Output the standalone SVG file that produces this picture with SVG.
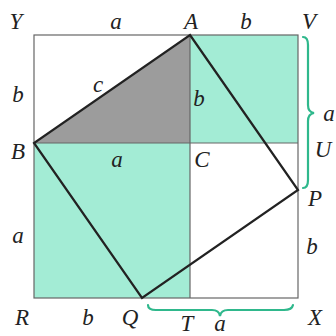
<svg xmlns="http://www.w3.org/2000/svg" width="336" height="336" viewBox="0 0 336 336">
<style>
.bg{fill:#ffffff}
.green{fill:#a3ecd5}
.grey{fill:#9c9c9c}
.thin{fill:none;stroke:#666;stroke-width:1.2}
.thick{fill:none;stroke:#222;stroke-width:2.2;stroke-linejoin:miter}
.brace{fill:none;stroke:#2fb88c;stroke-width:2.2;stroke-linecap:round}
text{font-family:"Liberation Serif","Times New Roman",serif;font-style:italic;font-size:23px;fill:#222;text-anchor:middle}
</style>
<rect class="bg" x="0" y="0" width="336" height="336"/>
<g id="regions">
<rect class="green" x="190" y="35" width="108" height="108"/>
<rect class="green" x="34" y="143" width="156" height="155"/>
<polygon class="grey" points="190,35 34,143 190,143"/>
</g>
<g id="outer-square">
<rect class="thin" x="34" y="35" width="264" height="263"/>
<line class="thin" x1="190" y1="35" x2="190" y2="298"/>
<line class="thin" x1="34" y1="143" x2="298" y2="143"/>
</g>
<g id="connectors">
<polygon class="thick" points="190,35 298,190 142,298 34,143"/>
</g>
<g id="braces">
<path class="brace" d="M303,37 Q308,37 308,45 L308,105 Q308,112 314,113 Q308,114 308,121 L308,180 Q308,188 303,188"/>
<path class="brace" d="M148,305 Q148,310 156,310 L212,310 Q219,310 220,316 Q221,310 228,310 L284,310 Q292,310 293,305"/>
</g>
<g id="labels">
<text x="16" y="29">Y</text>
<text x="116" y="29">a</text>
<text x="191" y="29">A</text>
<text x="246" y="29">b</text>
<text x="309" y="29">V</text>
<text x="18" y="102">b</text>
<text x="98" y="92">c</text>
<text x="199" y="106">b</text>
<text x="329" y="121">a</text>
<text x="18" y="159">B</text>
<text x="117" y="167">a</text>
<text x="202" y="167">C</text>
<text x="323" y="157">U</text>
<text x="315" y="206">P</text>
<text x="18" y="243">a</text>
<text x="312" y="254">b</text>
<text x="22" y="325">R</text>
<text x="88" y="325">b</text>
<text x="130" y="325">Q</text>
<text x="187" y="331">T</text>
<text x="220" y="331">a</text>
<text x="315" y="325">X</text>
</g>
</svg>
